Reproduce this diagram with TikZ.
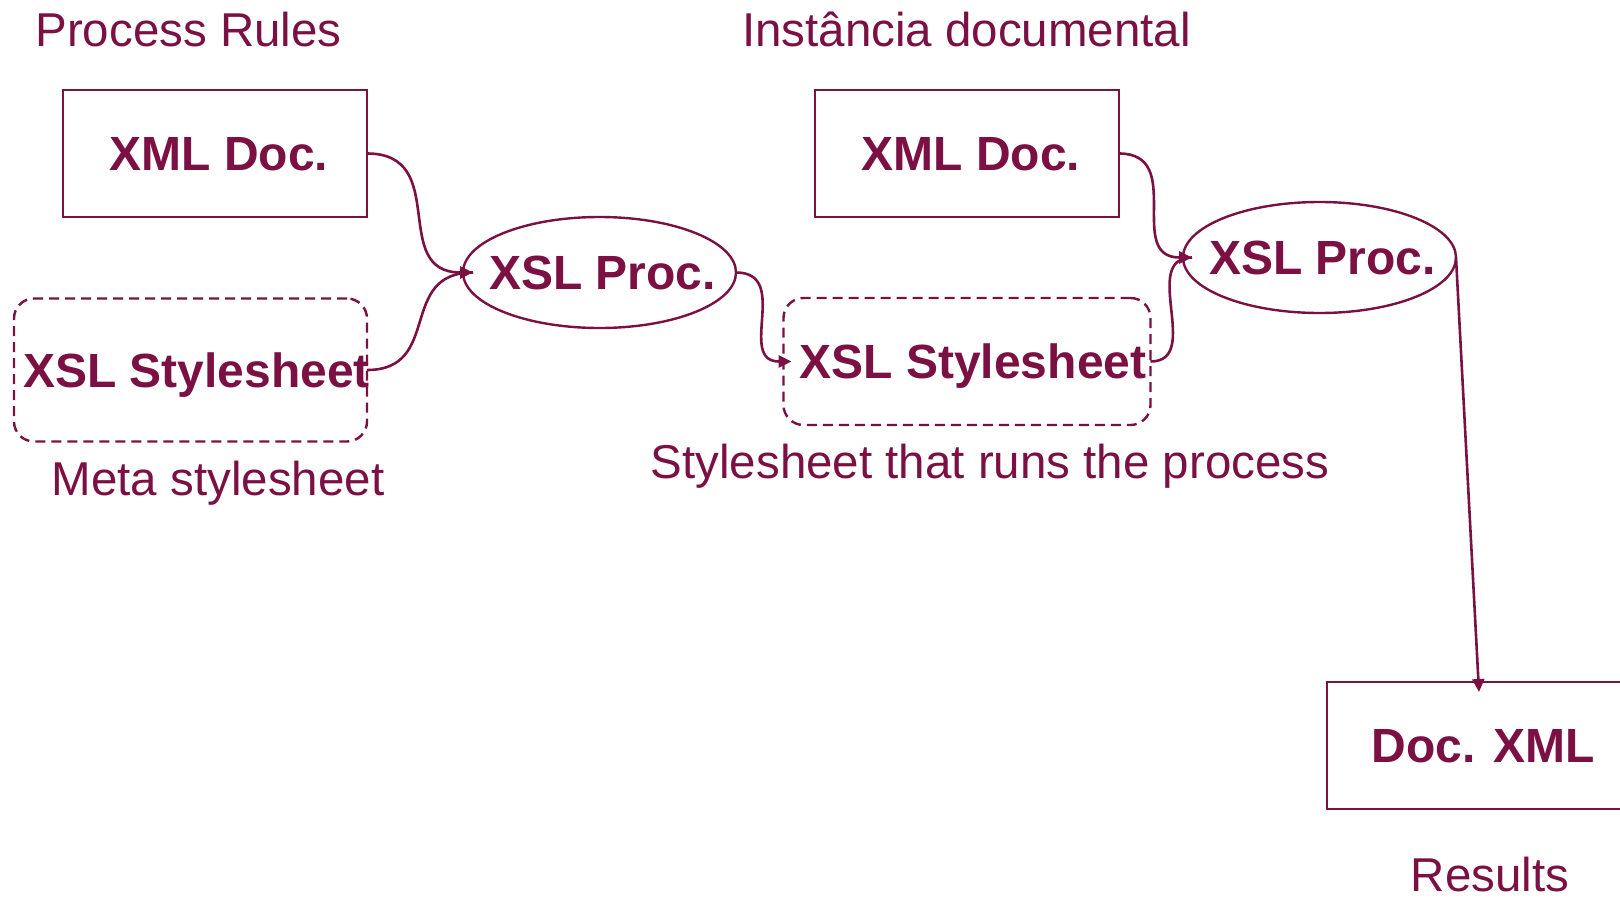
\documentclass[tikz,border=0pt]{standalone}
\usepackage{fontspec}
\setmainfont{Liberation Sans}
\usetikzlibrary{arrows.meta,shapes.geometric}
\definecolor{wine}{RGB}{123,17,67}
\tikzset{
  every node/.style={text=wine, inner sep=0pt, outer sep=0pt, text height=34pt, text depth=0pt},
  lbl/.style={font=\fontsize{47.5}{56}\selectfont},
  bold/.style={font=\fontsize{48}{56}\selectfont\bfseries},
  docbox/.style={bold, draw=wine, line width=2.4pt, minimum width=304pt, minimum height=127pt},
  ssbox/.style={bold, draw=wine, line width=2.4pt, dash pattern=on 10pt off 6pt, rounded corners=20pt},
  procell/.style={bold, ellipse, draw=wine, line width=2.4pt, minimum width=273pt, minimum height=111pt},
  conn/.style={draw=wine, line width=2.6pt},
  scurve/.style={out=0, in=180, looseness=1.35},
  tip/.style={-{Triangle[length=13pt,width=12pt]}}
}
\begin{document}
\begin{tikzpicture}[x=1pt,y=-1pt]
\useasboundingbox (0,0) rectangle (1620,899);
% titles
\node[lbl] (t1) at (188.5,30) {Process Rules};
\node[lbl] (t2) at (966.5,30) {Instância documental};
\node[lbl] (t3) at (218,478.5) {Meta stylesheet};
\node[lbl] (t4) at (990,461) {Stylesheet that runs the process};
\node[lbl] (t5) at (1490,874) {Results};
% shapes
\node[docbox] (xml1) at (215,153.5) {\makebox[0pt]{\hspace{8pt}XML Doc.}};
\node[docbox] (xml2) at (967,153.5) {\makebox[0pt]{\hspace{8pt}XML Doc.}};
\node[ssbox, minimum width=353pt, minimum height=143pt] (ss1) at (190.5,370) {\makebox[0pt]{\hspace{12pt}XSL Stylesheet}};
\node[ssbox, minimum width=367pt, minimum height=127pt] (ss2) at (967,361.5) {\makebox[0pt]{\hspace{12pt}XSL Stylesheet}};
\node[procell] (proc1) at (599.5,272.5) {\makebox[0pt]{\hspace{6pt}XSL Proc.}};
\node[procell] (proc2) at (1319.5,257.5) {\makebox[0pt]{\hspace{6pt}XSL Proc.}};
\node[docbox] (res) at (1479,745.5) {\makebox[0pt]{\hspace{8pt}Doc. XML}};
% connectors
\draw[conn,tip] (xml1.east) to[scurve] ([xshift=10pt]proc1.west);
\draw[conn] (ss1.east) to[scurve] ([xshift=10pt]proc1.west);
\draw[conn,tip] (proc1.east) to[scurve] ([xshift=8pt]ss2.west);
\draw[conn,tip] (xml2.east) to[scurve] ([xshift=9pt]proc2.west);
\draw[conn] (ss2.east) to[out=0,in=180,looseness=1.2] ([xshift=9pt]proc2.west);
\draw[conn,tip] (proc2.east) -- ([yshift=-10pt]res.north);
\end{tikzpicture}
\end{document}
